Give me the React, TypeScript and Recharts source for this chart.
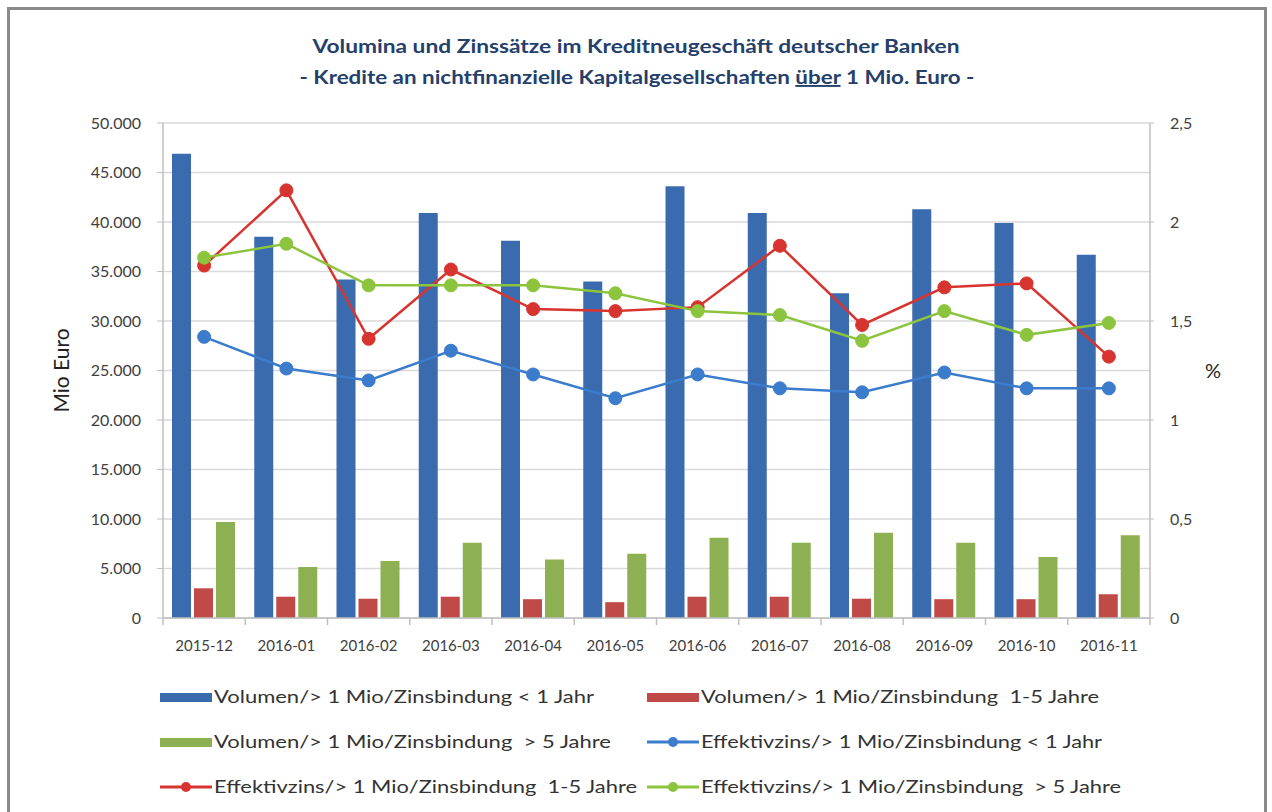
import {
  ComposedChart,
  Bar,
  Line,
  XAxis,
  YAxis,
  CartesianGrid,
  Label,
} from 'recharts';

const months = [
  '2015-12', '2016-01', '2016-02', '2016-03', '2016-04', '2016-05',
  '2016-06', '2016-07', '2016-08', '2016-09', '2016-10', '2016-11',
];

// Volumen in Mio Euro
const volUnder1 = [46900, 38500, 34200, 40900, 38100, 34000, 43600, 40900, 32800, 41300, 39900, 36700];
const vol1to5 = [3000, 2150, 1950, 2150, 1900, 1600, 2150, 2150, 1950, 1900, 1900, 2400];
const volOver5 = [9700, 5150, 5750, 7600, 5900, 6500, 8100, 7600, 8600, 7600, 6150, 8350];

// Effektivzins in %
const rateUnder1 = [1.42, 1.26, 1.2, 1.35, 1.23, 1.11, 1.23, 1.16, 1.14, 1.24, 1.16, 1.16];
const rate1to5 = [1.78, 2.16, 1.41, 1.76, 1.56, 1.55, 1.57, 1.88, 1.48, 1.67, 1.69, 1.32];
const rateOver5 = [1.82, 1.89, 1.68, 1.68, 1.68, 1.64, 1.55, 1.53, 1.4, 1.55, 1.43, 1.49];

const leftTicks = [0, 5000, 10000, 15000, 20000, 25000, 30000, 35000, 40000, 45000, 50000];
const rightTicks = [0, 0.5, 1, 1.5, 2, 2.5];

const seriesNames = [
  'Volumen/> 1 Mio/Zinsbindung < 1 Jahr',
  'Volumen/> 1 Mio/Zinsbindung  1-5 Jahre',
  'Volumen/> 1 Mio/Zinsbindung  > 5 Jahre',
  'Effektivzins/> 1 Mio/Zinsbindung < 1 Jahr',
  'Effektivzins/> 1 Mio/Zinsbindung  1-5 Jahre',
  'Effektivzins/> 1 Mio/Zinsbindung  > 5 Jahre',
];

const BAR_BLUE = '#3b6baf';
const BAR_RED = '#bf4a47';
const BAR_GREEN = '#8db152';
const LINE_BLUE = '#3b7ccc';
const LINE_RED = '#d8342f';
const LINE_GREEN = '#8cc43e';

const FONT = 'Lato, "Noto Sans", sans-serif';

const data = months.map((m, i) => ({
  month: m,
  v1: volUnder1[i],
  v2: vol1to5[i],
  v3: volOver5[i],
  r1: rateUnder1[i],
  r2: rate1to5[i],
  r3: rateOver5[i],
}));

const fmtLeft = (v: number) => v.toLocaleString('de-DE');
const fmtRight = (v: number) => String(v).replace('.', ',');

const MonthTick = (props: any) => {
  const { x, y, payload, index, visibleTicksCount, width } = props;
  const count = visibleTicksCount || months.length;
  const band = (width || 987) / count;
  return (
    <g>
      <line x1={x - band / 2} x2={x - band / 2} y1={y} y2={y + 7} stroke="#bfbfbf" strokeWidth={1.5} />
      {index === count - 1 && (
        <line x1={x + band / 2} x2={x + band / 2} y1={y} y2={y + 7} stroke="#bfbfbf" strokeWidth={1.5} />
      )}
      <text x={x} y={y + 33} textAnchor="middle" fontSize={15} fill="#404040" fontFamily={FONT}>
        {payload.value}
      </text>
    </g>
  );
};

// text widths as measured in the reference legend
const legendRows = [
  [
    { name: seriesNames[0], color: BAR_BLUE, bar: true, len: 380 },
    { name: seriesNames[1], color: BAR_RED, bar: true, len: 398 },
  ],
  [
    { name: seriesNames[2], color: BAR_GREEN, bar: true, len: 397 },
    { name: seriesNames[3], color: LINE_BLUE, bar: false, len: 401 },
  ],
  [
    { name: seriesNames[4], color: LINE_RED, bar: false, len: 423 },
    { name: seriesNames[5], color: LINE_GREEN, bar: false, len: 420 },
  ],
];

const LegendBlock = () => (
  <svg width={1272} height={812} style={{ position: 'absolute', left: 0, top: 0, pointerEvents: 'none' }}>
    {legendRows.map((row, ri) =>
      row.map((item, ci) => {
        const x0 = ci === 0 ? 160 : 647;
        const cy = 697 + ri * 45;
        return (
          <g key={`${ri}-${ci}`}>
            {item.bar ? (
              <rect x={x0} y={cy - 4} width={52} height={9} fill={item.color} />
            ) : (
              <g>
                <line x1={x0} x2={x0 + 52} y1={cy} y2={cy} stroke={item.color} strokeWidth={3} />
                <circle cx={x0 + 26} cy={cy} r={5} fill={item.color} />
              </g>
            )}
            <text
              x={x0 + 54}
              y={cy + 6}
              fontSize={17}
              fill="#333"
              fontFamily={FONT}
              textLength={item.len}
              lengthAdjust="spacingAndGlyphs"
              style={{ whiteSpace: 'pre' }}
            >
              {item.name}
            </text>
          </g>
        );
      })
    )}
  </svg>
);

const TitleBlock = () => (
  <svg width={1272} height={100} style={{ position: 'absolute', left: 0, top: 0, pointerEvents: 'none' }}>
    <text
      x={636}
      y={53}
      textAnchor="middle"
      fontSize={19}
      fontWeight="bold"
      fill="#25406b"
      fontFamily={FONT}
      textLength={647}
      lengthAdjust="spacingAndGlyphs"
    >
      Volumina und Zinssätze im Kreditneugeschäft deutscher Banken
    </text>
    <text
      x={637}
      y={84}
      textAnchor="middle"
      fontSize={19}
      fontWeight="bold"
      fill="#25406b"
      fontFamily={FONT}
      textLength={675}
      lengthAdjust="spacingAndGlyphs"
    >
      - Kredite an nichtfinanzielle Kapitalgesellschaften <tspan textDecoration="underline">über</tspan> 1 Mio. Euro -
    </text>
  </svg>
);

export default function App() {
  return (
    <div style={{ position: 'absolute', left: 0, top: 0, width: 1272, height: 812, overflow: 'hidden', background: '#fff' }}>
      <div
        style={{
          position: 'absolute',
          left: 7,
          top: 7,
          width: 1260,
          height: 830,
          border: '3px solid #8a8a8a',
          boxSizing: 'border-box',
        }}
      />
      <TitleBlock />
      <div style={{ position: 'absolute', left: 0, top: 0 }}>
        <ComposedChart
          width={1272}
          height={812}
          data={data}
          margin={{ top: 123, right: 42, bottom: 144, left: 53 }}
          barCategoryGap={9}
          barGap={3}
        >
          <CartesianGrid yAxisId="left" vertical={false} stroke="#d9d9d9" strokeWidth={1.5} />
          <XAxis
            dataKey="month"
            height={50}
            tick={<MonthTick />}
            tickLine={false}
            tickSize={0}
            tickMargin={0}
            axisLine={{ stroke: '#bfbfbf', strokeWidth: 1.5 }}
            interval={0}
          />
          <YAxis
            yAxisId="left"
            width={110}
            domain={[0, 50000]}
            ticks={leftTicks}
            tickFormatter={fmtLeft}
            tickSize={6}
            tickMargin={16}
            axisLine={{ stroke: '#bfbfbf', strokeWidth: 1.5 }}
            tickLine={{ stroke: '#bfbfbf' }}
            tick={{ fontSize: 16, fill: '#404040', fontFamily: FONT }}
          >
            <Label
              value="Mio Euro"
              angle={-90}
              position="insideLeft"
              offset={9}
              style={{ textAnchor: 'middle', fontSize: 21, fill: '#222', fontFamily: FONT }}
            />
          </YAxis>
          <YAxis
            yAxisId="right"
            orientation="right"
            width={80}
            domain={[0, 2.5]}
            ticks={rightTicks}
            tickFormatter={fmtRight}
            tickSize={4}
            tickMargin={16}
            axisLine={{ stroke: '#bfbfbf', strokeWidth: 1.5 }}
            tickLine={{ stroke: '#bfbfbf' }}
            tick={{ fontSize: 16, fill: '#404040', fontFamily: FONT, textAnchor: 'start' }}
          >
            <Label
              value="%"
              position="insideRight"
              offset={17}
              style={{ textAnchor: 'middle', fontSize: 20, fill: '#222', fontFamily: FONT }}
            />
          </YAxis>
          <Bar yAxisId="left" dataKey="v1" name={seriesNames[0]} fill={BAR_BLUE} isAnimationActive={false} />
          <Bar yAxisId="left" dataKey="v2" name={seriesNames[1]} fill={BAR_RED} isAnimationActive={false} />
          <Bar yAxisId="left" dataKey="v3" name={seriesNames[2]} fill={BAR_GREEN} isAnimationActive={false} />
          <Line
            yAxisId="right"
            dataKey="r1"
            name={seriesNames[3]}
            stroke={LINE_BLUE}
            strokeWidth={2.5}
            dot={{ r: 6.5, fill: LINE_BLUE, stroke: LINE_BLUE, strokeWidth: 1 }}
            isAnimationActive={false}
          />
          <Line
            yAxisId="right"
            dataKey="r2"
            name={seriesNames[4]}
            stroke={LINE_RED}
            strokeWidth={2.5}
            dot={{ r: 6.5, fill: LINE_RED, stroke: LINE_RED, strokeWidth: 1 }}
            isAnimationActive={false}
          />
          <Line
            yAxisId="right"
            dataKey="r3"
            name={seriesNames[5]}
            stroke={LINE_GREEN}
            strokeWidth={2.5}
            dot={{ r: 6.5, fill: LINE_GREEN, stroke: LINE_GREEN, strokeWidth: 1 }}
            isAnimationActive={false}
          />
        </ComposedChart>
      </div>
      <LegendBlock />
    </div>
  );
}
